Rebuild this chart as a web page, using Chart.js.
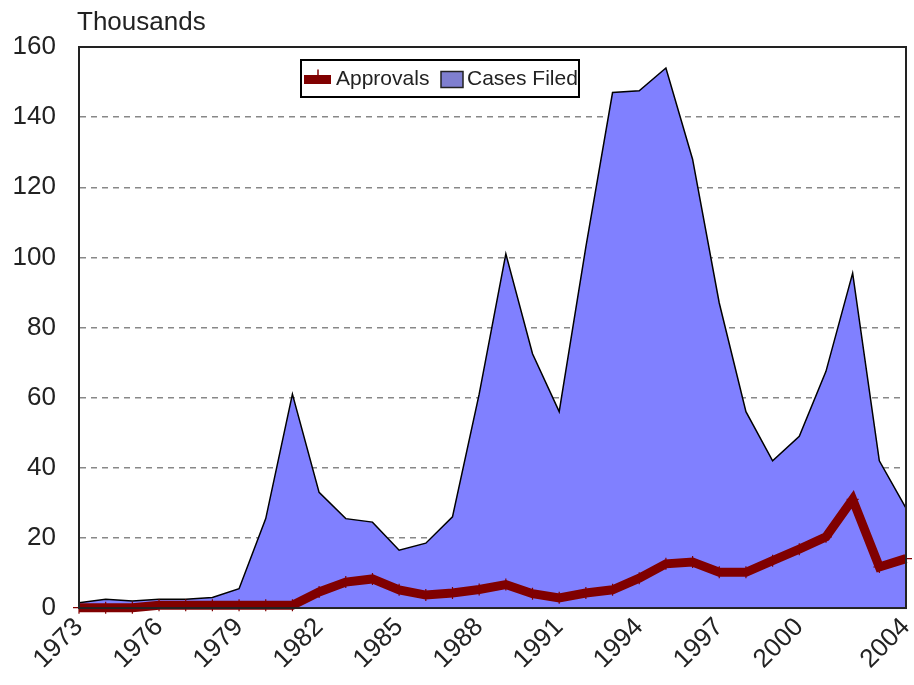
<!DOCTYPE html>
<html>
<head>
<meta charset="utf-8">
<script src="https://cdn.jsdelivr.net/npm/chart.js@4.4.1/dist/chart.umd.min.js"></script>
<style>
  html, body { margin: 0; padding: 0; background: #fff; }
  canvas { display: block; }
</style>
</head>
<body>
<canvas id="casesChart" width="914" height="685"></canvas>
<script>
const years = ['1973','1974','1975','1976','1977','1978','1979','1980','1981','1982','1983',
  '1984','1985','1986','1987','1988','1989','1990','1991','1992','1993','1994','1995',
  '1996','1997','1998','1999','2000','2001','2002','2003','2004'];

// thousands
const casesFiled = [1.5, 2.5, 2, 2.5, 2.5, 3, 5.5, 25.5, 61, 33, 25.5, 24.5, 16.5, 18.5, 26,
  61, 101, 72.5, 56, 103, 147, 147.5, 154, 128, 87, 56, 42, 49, 67.5, 95.5, 42, 28.5];

const approvals = [0.1, 0.1, 0.1, 0.8, 0.8, 0.8, 0.8, 0.8, 0.8, 4.6, 7.4, 8.3, 5.2, 3.7, 4.3,
  5.3, 6.7, 4.1, 2.9, 4.3, 5.2, 8.5, 12.6, 13.1, 10.2, 10.2, 13.5, 16.8, 20.3, 31, 11.7, 14.1];

const xTickLabels = ['1973','1976','1979','1982','1985','1988','1991','1994','1997','2000','2004'];
const yTicks = [0, 20, 40, 60, 80, 100, 120, 140, 160];

const FONT = "'Liberation Sans', Arial, sans-serif";

// frame, unit label and boxed legend
const extras = {
    id: 'extras',
    afterDraw(chart) {
        const ctx = chart.ctx;
        const a = chart.chartArea;
        ctx.save();
        ctx.strokeStyle = '#222';
        ctx.lineWidth = 2;
        ctx.strokeRect(a.left, a.top, a.right - a.left, a.bottom - a.top);

        ctx.fillStyle = '#222';
        ctx.font = '26px ' + FONT;
        ctx.textBaseline = 'alphabetic';
        ctx.fillText('Thousands', a.left - 2, 30);

        // legend
        const lx = a.left + 222, ly = a.top + 13, lw = 278, lh = 37;
        ctx.fillStyle = '#fff';
        ctx.fillRect(lx, ly, lw, lh);
        ctx.strokeStyle = '#000';
        ctx.lineWidth = 2;
        ctx.strokeRect(lx, ly, lw, lh);
        const cy = ly + lh / 2 + 1;
        const dsA = chart.data.datasets[0], dsC = chart.data.datasets[1];
        ctx.strokeStyle = dsA.borderColor;
        ctx.lineWidth = 9;
        ctx.beginPath();
        ctx.moveTo(lx + 3, cy); ctx.lineTo(lx + 30, cy);
        ctx.stroke();
        ctx.lineWidth = 1.5;
        ctx.beginPath();
        ctx.moveTo(lx + 17, cy - 10); ctx.lineTo(lx + 17, cy);
        ctx.stroke();
        ctx.fillStyle = '#222';
        ctx.font = '21px ' + FONT;
        ctx.textBaseline = 'middle';
        ctx.fillText(dsA.label, lx + 35, cy);
        ctx.fillStyle = '#7f7fd0';
        ctx.fillRect(lx + 140, cy - 8, 22, 16);
        ctx.strokeStyle = '#222';
        ctx.lineWidth = 1.5;
        ctx.strokeRect(lx + 140, cy - 8, 22, 16);
        ctx.fillStyle = '#222';
        ctx.fillText(dsC.label, lx + 166, cy);
        ctx.restore();
    }
};

const ctx = document.getElementById('casesChart').getContext('2d');
new Chart(ctx, {
    type: 'line',
    data: {
        labels: years,
        datasets: [{
            label: 'Approvals',
            data: approvals,
            borderColor: '#800000',
            backgroundColor: '#800000',
            borderWidth: 9,
            fill: false,
            tension: 0,
            pointStyle: 'cross',
            pointRadius: 6,
            pointBorderWidth: 1.2,
            pointBorderColor: '#800000',
            clip: false
        }, {
            label: 'Cases Filed',
            data: casesFiled,
            borderColor: '#000',
            backgroundColor: '#8080ff',
            borderWidth: 1.5,
            fill: 'origin',
            tension: 0,
            pointRadius: 0
        }]
    },
    options: {
        responsive: false,
        animation: false,
        devicePixelRatio: 1,
        layout: { padding: { top: 47, left: 12, right: 8, bottom: 6 } },
        plugins: {
            legend: { display: false },
            tooltip: { enabled: false }
        },
        scales: {
            x: {
                offset: false,
                afterFit: axis => { axis.paddingLeft = 0; axis.paddingRight = 0; },
                grid: { display: false, drawTicks: false },
                border: { display: true, color: '#222', width: 2 },
                ticks: {
                    autoSkip: false,
                    maxRotation: 45,
                    minRotation: 45,
                    padding: 4,
                    color: '#222',
                    font: { family: FONT, size: 26 },
                    callback: function(value, index) {
                        const l = this.getLabelForValue(value);
                        return xTickLabels.includes(l) ? l : '';
                    }
                }
            },
            y: {
                min: 0,
                max: 160,
                afterBuildTicks: axis => { axis.ticks = yTicks.map(v => ({ value: v })); },
                afterFit: axis => { axis.width = 67; },
                grid: {
                    color: ctx => (ctx.tick.value === 0 || ctx.tick.value === 160) ? 'rgba(0,0,0,0)' : '#888',
                    lineWidth: 1.5,
                    drawTicks: false
                },
                border: { display: true, color: '#222', width: 2, dash: [6, 5] },
                ticks: {
                    autoSkip: false,
                    padding: 23,
                    color: '#222',
                    font: { family: FONT, size: 26 }
                }
            }
        }
    },
    plugins: [extras]
});
</script>
</body>
</html>
